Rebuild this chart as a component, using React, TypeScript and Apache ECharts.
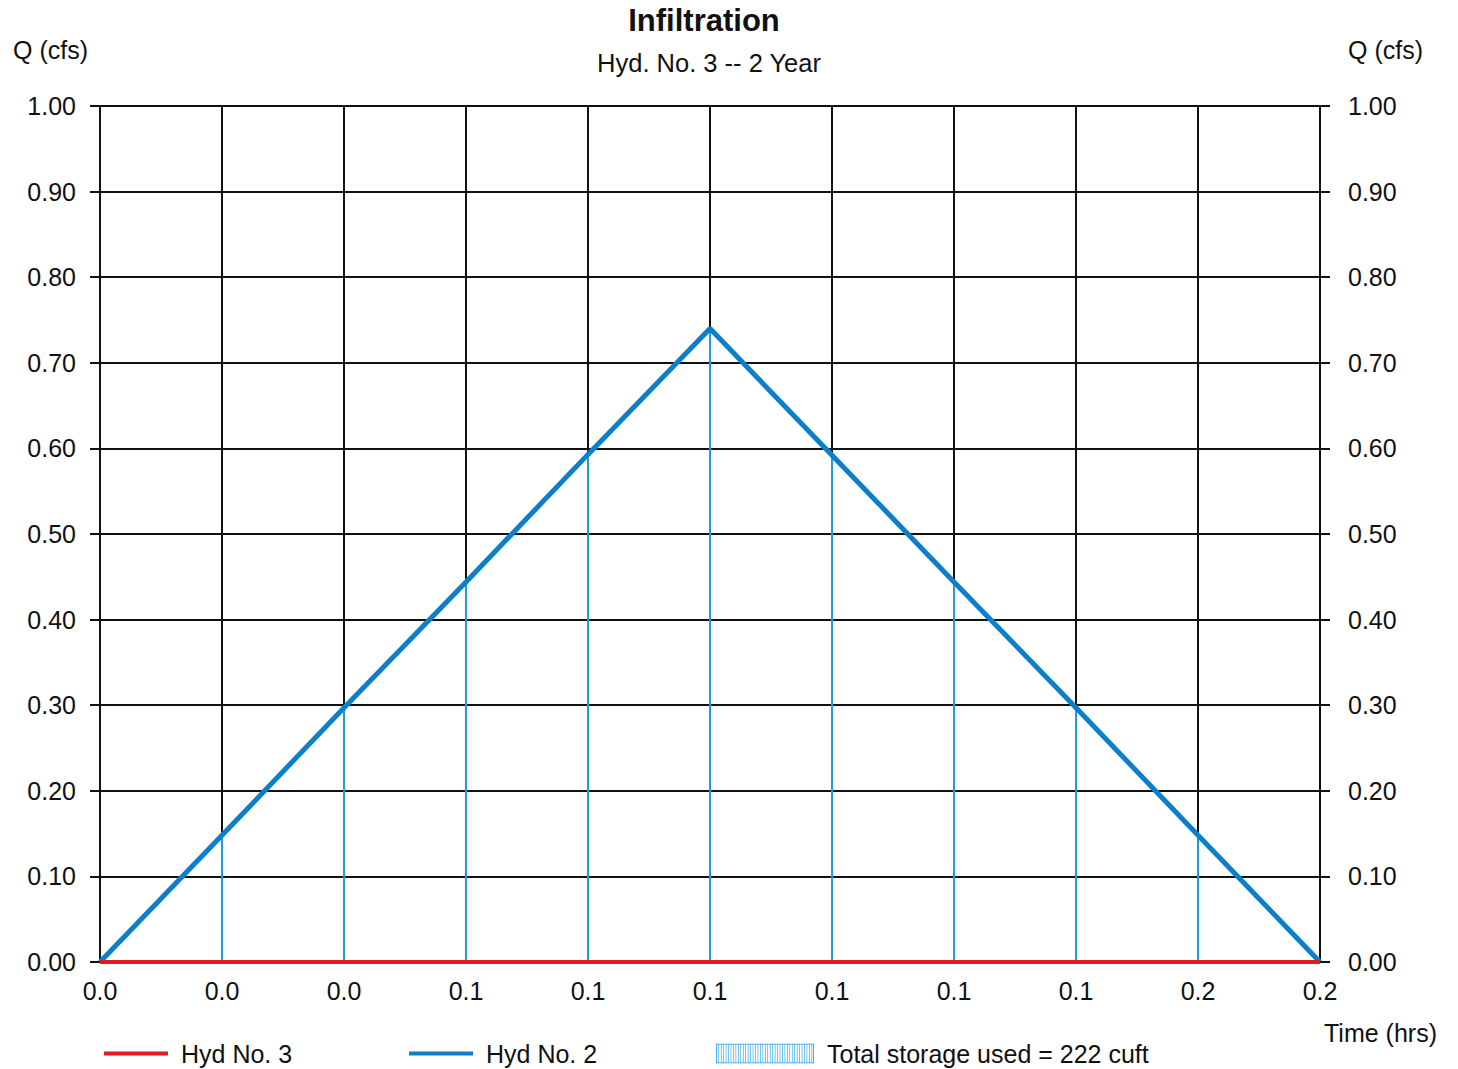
import React, { useEffect, useRef } from "react";
import * as echarts from "echarts";

const timeLabels = ["0.0", "0.0", "0.0", "0.1", "0.1", "0.1", "0.1", "0.1", "0.1", "0.2", "0.2"];
const hydNo2 = [0, 0.148, 0.297, 0.444, 0.593, 0.74, 0.592, 0.444, 0.297, 0.148, 0];
const hydNo3 = [0, 0, 0, 0, 0, 0, 0, 0, 0, 0, 0];
const storageLabel = "Total storage used = 222 cuft";

const FONT = "'Liberation Sans', Arial, sans-serif";

function hatchIcon(): string {
  const w = 100;
  const h = 20;
  let d = `M0,0H${w}V0.8H0Z M0,${h - 0.8}H${w}V${h}H0Z M0,0H0.8V${h}H0Z M${w - 0.8},0H${w}V${h}H${w - 0.8}Z`;
  for (let x = 2.5; x < w - 1; x += 2.5) {
    d += ` M${x},0H${x + 0.6}V${h}H${x}Z`;
  }
  return "path://" + d;
}

export default function App() {
  const ref = useRef<HTMLDivElement>(null);
  useEffect(() => {
    if (!ref.current) return;
    const chart = echarts.init(ref.current, undefined, { renderer: "svg" });
    const axisLabelStyle = { color: "#111", fontSize: 25, fontFamily: FONT };
    const yCommon = {
      type: "value" as const,
      min: 0,
      max: 1,
      interval: 0.1,
      axisLine: { show: true, lineStyle: { color: "#111", width: 2 } },
      axisTick: { show: true, length: 10, inside: false, lineStyle: { color: "#111", width: 2 } },
      splitLine: { show: true, lineStyle: { color: "#111", width: 2 } },
      axisLabel: { ...axisLabelStyle, margin: 24, formatter: (v: number) => v.toFixed(2) },
    };
    chart.setOption({
      animation: false,
      backgroundColor: "#fff",
      title: [
        {
          text: "Infiltration",
          left: 699,
          top: 0,
          textAlign: "center",
          textStyle: { fontSize: 31, fontWeight: "bold", color: "#111", fontFamily: FONT },
        },
        {
          text: "Hyd. No. 3 -- 2 Year",
          left: 704,
          top: 45,
          textAlign: "center",
          textStyle: { fontSize: 25.5, fontWeight: "normal", color: "#111", fontFamily: FONT },
        },
      ],
      grid: { left: 100, right: 138, top: 106, bottom: 107, containLabel: false },
      legend: [
        {
          data: [{ name: "Hyd No. 3", icon: "rect" }],
          left: 99,
          top: 1036,
          itemWidth: 64,
          itemHeight: 4,
          textStyle: { ...axisLabelStyle, padding: [0, 0, 0, 8] },
        },
        {
          data: [{ name: "Hyd No. 2", icon: "rect" }],
          left: 404,
          top: 1036,
          itemWidth: 64,
          itemHeight: 4,
          textStyle: { ...axisLabelStyle, padding: [0, 0, 0, 8] },
        },
        {
          data: [{ name: storageLabel, icon: hatchIcon() }],
          left: 711,
          top: 1036,
          itemWidth: 98,
          itemHeight: 21,
          textStyle: { ...axisLabelStyle, padding: [0, 0, 0, 8] },
        },
      ],
      xAxis: {
        type: "category",
        data: timeLabels,
        boundaryGap: false,
        name: "Time (hrs)",
        nameLocation: "end",
        nameGap: 4,
        nameTextStyle: { ...axisLabelStyle, align: "left", verticalAlign: "top", padding: [58, 0, 0, 0] },
        axisLine: { show: true, lineStyle: { color: "#111", width: 2 } },
        axisTick: { show: false },
        splitLine: { show: true, interval: 0, lineStyle: { color: "#111", width: 2 } },
        axisLabel: { ...axisLabelStyle, margin: 16, interval: 0 },
      },
      yAxis: [
        {
          ...yCommon,
          position: "left",
          name: "Q (cfs)",
          nameLocation: "end",
          nameGap: 44,
          nameTextStyle: { ...axisLabelStyle, align: "right", padding: [0, 12, 0, 0] },
        },
        {
          ...yCommon,
          position: "right",
          splitLine: { show: false },
          name: "Q (cfs)",
          nameLocation: "end",
          nameGap: 44,
          nameTextStyle: { ...axisLabelStyle, align: "left", padding: [0, 0, 0, 28] },
          axisLabel: { ...axisLabelStyle, margin: 28, formatter: (v: number) => v.toFixed(2) },
        },
      ],
      series: [
        {
          name: storageLabel,
          type: "bar",
          data: hydNo2,
          barWidth: 2,
          itemStyle: { color: "#1d9de0" },
          z: 3,
        },
        {
          name: "Hyd No. 2",
          type: "line",
          data: hydNo2,
          symbol: "none",
          lineStyle: { color: "#0b7fca", width: 5 },
          itemStyle: { color: "#0b7fca" },
          z: 4,
        },
        {
          name: "Hyd No. 3",
          type: "line",
          data: hydNo3,
          symbol: "none",
          lineStyle: { color: "#e01a1f", width: 4 },
          itemStyle: { color: "#e01a1f" },
          z: 5,
        },
      ],
    });
    return () => chart.dispose();
  }, []);
  return (
    <div
      ref={ref}
      style={{ position: "fixed", left: 0, top: 0, width: 1458, height: 1069, background: "#fff" }}
    />
  );
}
